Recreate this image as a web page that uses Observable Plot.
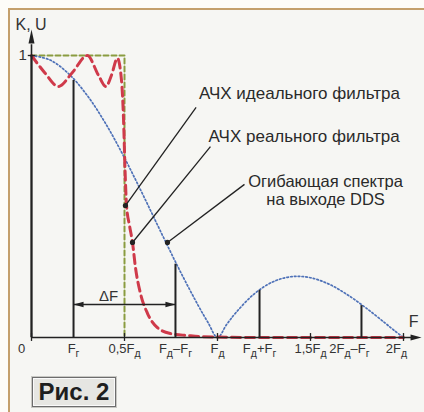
<!DOCTYPE html>
<html><head><meta charset="utf-8">
<script src="https://cdn.jsdelivr.net/npm/d3@7"></script>
<script src="https://cdn.jsdelivr.net/npm/@observablehq/plot@0.6"></script>
<style>
html,body{margin:0;padding:0;background:#fdfcf8;}
#wrap{position:relative;width:424px;height:412px;overflow:hidden;}
#bg{position:absolute;left:8px;top:8px;width:430px;height:420px;background:#f6f6f3;border-left:2.5px solid #c4a06c;border-top:2.5px solid #c4a06c;}
#chart{position:absolute;left:0;top:0;}
#cap{position:absolute;left:32px;top:377px;width:82px;height:28px;background:#e6e6e2;border:1.5px solid #6d6d6d;box-shadow:0 0 0 1px #c8c8c4, inset 0 0 0 1px #fafafa;
font:bold 24px "Liberation Sans",Arial,sans-serif;color:#1e1e1e;text-align:center;line-height:28px;}
</style></head>
<body><div id="wrap"><div id="bg"></div><div id="chart"></div><div id="cap">Рис. 2</div></div>
<script>
// Envelope of DDS output spectrum (blue dotted)
const envF = [0,0.1,0.2,0.3,0.4,0.5,0.6,0.7,0.8,0.9,0.95,1.0,1.05,1.1,1.2,1.3,1.4,1.5,1.6,1.7,1.8,1.9,1.95,2.0];
const envV = [1.0,0.984,0.935,0.858,0.757,0.637,0.505,0.368,0.234,0.109,0.052,0,0.047,0.089,0.156,0.198,0.216,0.212,0.189,0.151,0.104,0.052,0.025,0];
// Real filter response (red dashed)
const realF = [0,0.07,0.145,0.22,0.30,0.36,0.40,0.43,0.462,0.484,0.495,0.503,0.511,0.527,0.543,0.559,0.586,0.624,0.677,0.747,0.839,0.909,1.2,1.5,1.8,2.0];
const realV = [1.0,0.94,0.89,0.94,1.0,0.93,0.89,0.93,0.99,0.911,0.77,0.592,0.468,0.397,0.337,0.248,0.156,0.085,0.035,0.014,0.007,0.003,0,0,0,0];
// Ideal filter (green dashed)
const idealF = [0,0.5,0.5];
const idealV = [1,1,0];
// Spectral lines
const lineF = [0,0.226,0.774,1.226,1.774];
const lineV = [1.0,0.911,0.26,0.167,0.113];
// X tick positions and labels (_ marks a subscript letter)
const tickF = [0,0.226,0.5,0.774,1,1.226,1.5,1.774,2];
const tickLabels = ["0","F_г","0,5F_д","F_д–F_г","F_д","F_д+F_г","1,5F_д","2F_д–F_г","2F_д"];
const axisTicks = [0,0.5,1,1.5,2];
// Annotations
const annText = ["АЧХ идеального фильтра","АЧХ реального фильтра","Огибающая спектра\nна выходе DDS"];
const annF = [0.9,0.952,1.581];
const annV = [0.865,0.713,0.521];
const leadFrom = [[0.505,0.468],[0.543,0.337],[0.731,0.337]];
const leadTo = [[0.885,0.816],[0.962,0.677],[1.145,0.543]];
const deltaF = [0.226,0.774];
const deltaV = 0.117;

const ink = "#222";
const font = "'Liberation Sans', Arial, sans-serif";
const env = envF.map((f,i)=>({f, v: envV[i]}));
const real = realF.map((f,i)=>({f, v: realV[i]}));
const ideal = idealF.map((f,i)=>({f, v: idealV[i]}));
const lines = lineF.map((f,i)=>({f, v: lineV[i]}));
const ticks = tickF.map((f,i)=>({f, label: tickLabels[i], i}));
const ann = annText.map((t,i)=>({t, f: annF[i], v: annV[i]}));
const leads = leadFrom.map((a,i)=>({x1:a[0], y1:a[1], x2:leadTo[i][0], y2:leadTo[i][1]}));

const head = {draw(ctx, l, r){ ctx.moveTo(0,-l); ctx.lineTo(-r,0); ctx.lineTo(r,0); ctx.closePath(); }};
const shift = {0:-10, 7:-12, 8:-7};

const svg = Plot.plot({
  width: 424, height: 412,
  x: {domain:[0,2], range:[31,403], axis:null},
  y: {domain:[0,1], range:[337,55], axis:null},
  style: {background:"transparent", fontFamily: font, overflow:"visible"},
  marks: [
    Plot.line(ideal, {x:"f", y:"v", stroke:"#8a9c40", strokeWidth:2, strokeDasharray:"5,3"}),
    Plot.line(env, {x:"f", y:"v", stroke:"#4f72b8", strokeWidth:1.7, strokeDasharray:"1.6,2.2", curve:"catmull-rom"}),
    Plot.line(real, {x:"f", y:"v", stroke:"#cf3a4a", strokeWidth:3, strokeDasharray:"9,5", curve:"monotone-x"}),
    // axes
    Plot.link([{a:0}], {x1:0, y1:0, x2:2.05, y2:0, stroke:ink, strokeWidth:1.5}),
    Plot.vector([{a:0}], {x:2.097, y:0, length:11, rotate:90, anchor:"end", shape:head, r:3, fill:ink, stroke:"none"}),
    Plot.link([{a:0}], {x1:0, y1:0, x2:0, y2:1.04, stroke:ink, strokeWidth:1.6}),
    Plot.vector([{a:0}], {x:0, y:1.092, length:14, rotate:0, anchor:"end", shape:head, r:3, fill:ink, stroke:"none"}),
    Plot.ruleX(axisTicks, {x:d=>d, y1:-0.014, y2:0.014, stroke:ink, strokeWidth:1.3}),
    Plot.link([{a:0}], {x1:-0.02, y1:1, x2:0.02, y2:1, stroke:ink, strokeWidth:1.3}),
    // spectral lines
    Plot.ruleX(lines, {x:"f", y1:0, y2:"v", stroke:ink, strokeWidth:2}),
    // delta F arrow
    Plot.link([{a:0}], {x1:deltaF[0], y1:deltaV, x2:deltaF[1], y2:deltaV, stroke:ink, strokeWidth:1.3}),
    Plot.vector([{a:0}], {x:deltaF[0], y:deltaV, length:10, rotate:-90, anchor:"end", shape:head, r:2.8, fill:ink, stroke:"none"}),
    Plot.vector([{a:0}], {x:deltaF[1], y:deltaV, length:10, rotate:90, anchor:"end", shape:head, r:2.8, fill:ink, stroke:"none"}),
    Plot.text(["ΔF"], {x:0.414, y:0.145, text:d=>d, fontSize:15, fill:"#333"}),
    // leader lines
    Plot.link(leads, {x1:"x1", y1:"y1", x2:"x2", y2:"y2", stroke:ink, strokeWidth:1.3}),
    Plot.dot(leads, {x:"x1", y:"y1", r:2.6, fill:ink, stroke:"none"}),
    // annotation texts
    Plot.text(ann.slice(0,2), {x:"f", y:"v", text:"t", textAnchor:"start", fontSize:17, fill:"#2a2a2a"}),
    Plot.text(ann.slice(2), {x:"f", y:"v", text:"t", textAnchor:"middle", fontSize:16.5, lineHeight:1.1, fill:"#2a2a2a"}),
    // axis labels
    Plot.text(["K, U"], {x:-0.086, y:1.11, text:d=>d, textAnchor:"start", fontSize:16, fill:"#333"}),
    Plot.text(["1"], {x:-0.025, y:1, text:d=>d, textAnchor:"end", fontSize:15, fill:"#333"}),
    Plot.text(["F"], {x:2.055, y:0.057, text:d=>d, fontSize:16, fill:"#333"}),
    // tick labels
    Plot.text(ticks.filter(d=>!(d.i in shift)), {x:"f", y:-0.039, text:"label", fontSize:13, fill:"#333"}),
    ...Object.entries(shift).map(([i,dx]) => Plot.text([ticks[+i]], {x:"f", y:-0.039, text:"label", fontSize:13, fill:"#333", dx}))
  ]
});

// subscripts
d3.select(svg).selectAll("text").each(function(){
  const t = this.textContent;
  if (!t.includes("_")) return;
  const sel = d3.select(this); sel.text(null);
  let low = false;
  for (const p of t.split(/(_.)/)) {
    if (!p) continue;
    if (p[0] === "_") { sel.append("tspan").attr("dy", low ? 0 : 4).attr("font-size", 10.5).text(p[1]); low = true; }
    else { sel.append("tspan").attr("dy", low ? -4 : 0).text(p); low = false; }
  }
});
document.getElementById("chart").appendChild(svg);
</script>
</body></html>
